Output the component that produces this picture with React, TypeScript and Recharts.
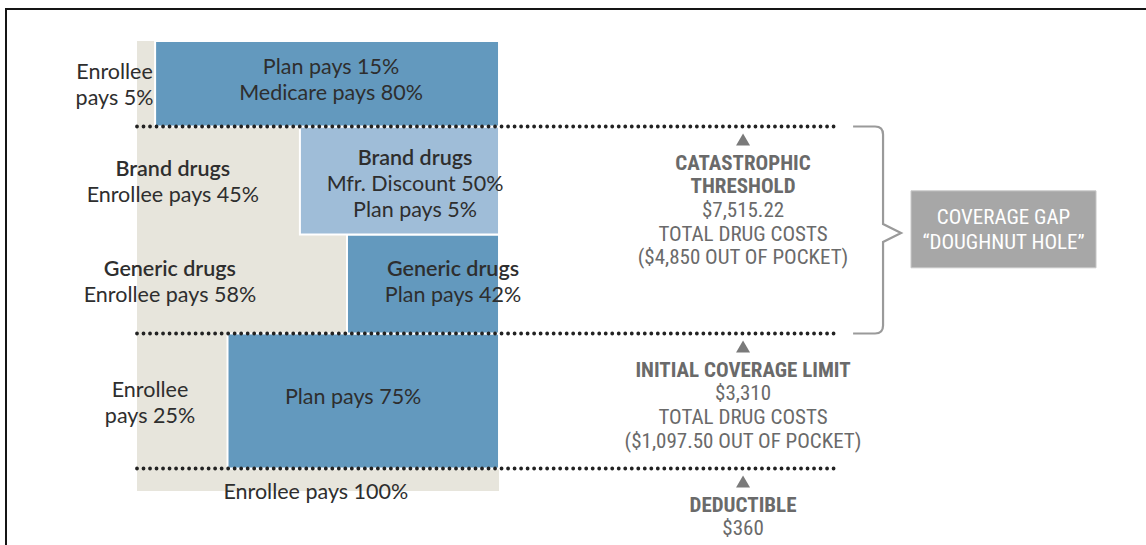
import React from "react";
import { ComposedChart, XAxis, YAxis, ReferenceArea, ReferenceLine, ReferenceDot } from "recharts";

// ---- data ----
const bandNames = ["Deductible", "Initial coverage", "Coverage gap – generic", "Coverage gap – brand", "Catastrophic"];
const bandLow = [0, 5, 35, 57, 81];
const bandHigh = [5, 35, 57, 81, 100];
const enrolleePct = [100, 25, 58, 45, 5];
const enrolleeLabels = [
  ["Enrollee pays 100%"],
  ["Enrollee", "pays 25%"],
  ["Generic drugs", "Enrollee pays 58%"],
  ["Brand drugs", "Enrollee pays 45%"],
  ["Enrollee", "pays 5%"],
];
const planLabels = [
  [],
  ["Plan pays 75%"],
  ["Generic drugs", "Plan pays 42%"],
  ["Brand drugs", "Mfr. Discount 50%", "Plan pays 5%"],
  ["Plan pays 15%", "Medicare pays 80%"],
];
const thresholdTitles = [["DEDUCTIBLE"], ["INITIAL COVERAGE LIMIT"], ["CATASTROPHIC", "THRESHOLD"]];
const thresholdAmounts = ["$360", "$3,310", "$7,515.22"];
const thresholdTotals = ["", "TOTAL DRUG COSTS", "TOTAL DRUG COSTS"];
const thresholdOOP = ["", "($1,097.50 OUT OF POCKET)", "($4,850 OUT OF POCKET)"];
const thresholdLevel = [5, 35, 81];
const gapLabel = ["COVERAGE GAP", "\u201CDOUGHNUT HOLE\u201D"];

// ---- layout / style ----
const W = 1146;
const H = 545;
const X_MAX = 266;
const BEIGE = "#e7e5dc";
const BLUE = "#6399be";
const LIGHT = "#9fbdd8";
const DARK_TXT = "#2e2e2e";
const GRAY_TXT = "#6a6a6a";
const BODY_FONT = "Lato, 'Open Sans', sans-serif";
const COND_FONT = "'Liberation Sans Narrow', 'Roboto Condensed', 'DejaVu Sans Condensed', 'Open Sans', sans-serif";
const enrolleeAnchor = [[49.4, 0], [3.6, 19.8], [9.1, 46.7], [9.9, 68.9], [-6.2, 90.4]];
const planAnchor = [[0, 0], [59.7, 21.1], [87.3, 46.7], [76.8, 68.4], [53.6, 91.6]];
const DOT_END = 193.6;
const NOTE_X = 167.4;

type Line = { t: string; w?: number };

function TextBlock(props: any) {
  const { cx, cy, lines, lh = 26, size = 21.5, color = DARK_TXT, family = BODY_FONT } = props;
  if (cx == null || cy == null) return null;
  const y0 = cy - ((lines.length - 1) * lh) / 2;
  return (
    <text x={cx} y={y0} textAnchor="middle" dominantBaseline="central" fontFamily={family} fontSize={size} fill={color}>
      {lines.map((l: Line, i: number) => (
        <tspan key={i} x={cx} dy={i === 0 ? 0 : lh} fontWeight={l.w || 400}>
          {l.t}
        </tspan>
      ))}
    </text>
  );
}

function ThresholdNote(props: any) {
  const { cx, cy, idx } = props;
  if (cx == null || cy == null) return null;
  const lines: Line[] = [];
  thresholdTitles[idx].forEach((t) => lines.push({ t, w: 700 }));
  lines.push({ t: thresholdAmounts[idx] });
  if (thresholdTotals[idx]) lines.push({ t: thresholdTotals[idx] });
  if (thresholdOOP[idx]) lines.push({ t: thresholdOOP[idx] });
  const ty = cy + 13;
  const lh = 23.7;
  const first = cy + 36;
  return (
    <g>
      <polygon points={`${cx - 7},${ty + 6} ${cx + 7},${ty + 6} ${cx},${ty - 6}`} fill="#7a7a7a" />
      <text x={cx} y={first} textAnchor="middle" dominantBaseline="central" fontFamily={COND_FONT} fontSize={21} fill={GRAY_TXT}>
        {lines.map((l, i) => (
          <tspan key={i} x={cx} dy={i === 0 ? 0 : lh} fontWeight={l.w || 400}>
            {l.t}
          </tspan>
        ))}
      </text>
    </g>
  );
}

function Bracket(props: any) {
  const { x, y, width, height } = props;
  const xr = x + width - 20;
  const mid = y + height / 2 + 3;
  const r = 8;
  const d = `M ${x} ${y} H ${xr - r} Q ${xr} ${y} ${xr} ${y + r} V ${mid - 9} L ${x + width - 2} ${mid} L ${xr} ${mid + 9} V ${y + height - r} Q ${xr} ${y + height} ${xr - r} ${y + height} H ${x}`;
  return <path d={d} fill="none" stroke="#9a9a9a" strokeWidth={2.2} />;
}

export default function App() {
  return (
    <div style={{ position: "absolute", left: 0, top: 0, width: W, height: H, background: "#fff", overflow: "hidden" }}>
      <div
        style={{
          position: "absolute",
          left: 5,
          top: 8,
          width: W,
          height: H,
          borderTop: "2px solid #151515",
          borderLeft: "2px solid #151515",
          boxSizing: "border-box",
        }}
      />
      <div style={{ position: "absolute", left: 0, top: 0 }}>
        <ComposedChart width={W} height={H} data={[]} margin={{ top: 41, right: 46, bottom: 54, left: 137 }}>
          <XAxis type="number" dataKey="x" domain={[0, X_MAX]} hide allowDataOverflow />
          <YAxis type="number" dataKey="y" domain={[0, 100]} hide allowDataOverflow />
          {/* enrollee share background */}
          <ReferenceArea x1={0} x2={100} y1={0} y2={100} fill={BEIGE} fillOpacity={1} stroke="none" ifOverflow="visible" />
          {/* plan share blocks */}
          {bandNames.map((name, i) =>
            enrolleePct[i] < 100 ? (
              <ReferenceArea
                key={name}
                x1={enrolleePct[i]}
                x2={100}
                y1={bandLow[i]}
                y2={bandHigh[i]}
                fill={i === 3 ? LIGHT : BLUE}
                fillOpacity={1}
                stroke="#ffffff"
                strokeWidth={2}
                ifOverflow="visible"
              />
            ) : null
          )}
          {/* threshold dotted lines */}
          {thresholdLevel.map((lv) => (
            <ReferenceLine
              key={"l" + lv}
              segment={[{ x: 0, y: lv }, { x: DOT_END, y: lv }]}
              stroke="#222222"
              strokeWidth={3.8}
              strokeDasharray="0.01 6.5"
              strokeLinecap="round"
              ifOverflow="visible"
            />
          ))}
          {/* block labels */}
          {bandNames.map((name, i) => (
            <ReferenceDot
              key={"e" + name}
              x={enrolleeAnchor[i][0]}
              y={enrolleeAnchor[i][1]}
              r={0}
              ifOverflow="visible"
              shape={(p: any) => (
                <TextBlock
                  cx={p.cx}
                  cy={p.cy}
                  lines={enrolleeLabels[i].map((t, k) => ({ t, w: (i === 2 || i === 3) && k === 0 ? 600 : 400 }))}
                />
              )}
            />
          ))}
          {bandNames.map((name, i) =>
            planLabels[i].length ? (
              <ReferenceDot
                key={"p" + name}
                x={planAnchor[i][0]}
                y={planAnchor[i][1]}
                r={0}
                ifOverflow="visible"
                shape={(p: any) => (
                  <TextBlock
                    cx={p.cx}
                    cy={p.cy}
                    lines={planLabels[i].map((t, k) => ({ t, w: (i === 2 || i === 3) && k === 0 ? 600 : 400 }))}
                  />
                )}
              />
            ) : null
          )}
          {/* threshold notes */}
          {thresholdLevel.map((lv, i) => (
            <ReferenceDot
              key={"n" + lv}
              x={NOTE_X}
              y={lv}
              r={0}
              ifOverflow="visible"
              shape={(p: any) => <ThresholdNote cx={p.cx} cy={p.cy} idx={i} />}
            />
          ))}
          {/* coverage gap bracket and box */}
          <ReferenceArea
            x1={197.8}
            x2={211.6}
            y1={bandLow[2]}
            y2={bandHigh[3]}
            ifOverflow="visible"
            shape={(p: any) => <Bracket {...p} />}
          />
          <ReferenceArea x1={213.8} x2={264.9} y1={49.6} y2={66.7} fill="#a7a7a7" fillOpacity={1} stroke="#c8c8c8" strokeWidth={1} ifOverflow="visible" />
          <ReferenceDot
            x={239.35}
            y={58.15}
            r={0}
            ifOverflow="visible"
            shape={(p: any) => (
              <TextBlock cx={p.cx} cy={p.cy} lines={gapLabel.map((t) => ({ t }))} lh={25} size={21} color="#ffffff" family={COND_FONT} />
            )}
          />
        </ComposedChart>
      </div>
    </div>
  );
}
